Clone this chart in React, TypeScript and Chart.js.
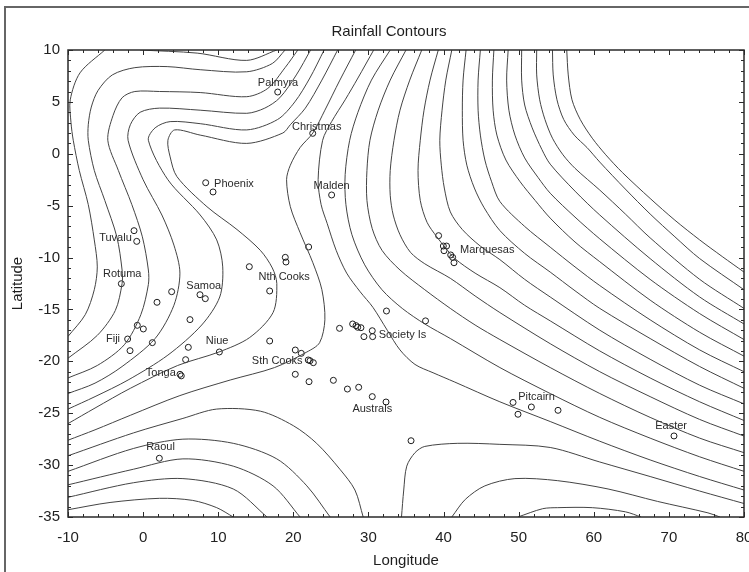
import React, { useEffect, useRef } from "react";
import { Chart, registerables } from "chart.js";
Chart.register(...registerables);

// Station locations (longitude offset, latitude)
const stationLon = [17.92, 22.58, 8.33, 9.31, 25.1, -1.21, -0.85, -2.9, 22.04, 18.93, 19.02, 14.14, 16.85, 7.57, 8.28, 3.8, 1.85, 6.24, -0.77, 0.03, -2.06, 1.23, -1.74, 6.02, 5.66, 10.15, 4.91, 5.08, 16.85, 20.26, 21.06, 21.99, 22.66, 22.22, 20.26, 22.09, 25.33, 27.2, 28.7, 30.51, 32.34, 35.67, 26.15, 27.9, 28.35, 28.57, 29.0, 29.4, 30.51, 30.56, 32.4, 37.6, 39.34, 39.97, 40.4, 40.06, 40.95, 41.21, 41.39, 49.25, 51.69, 49.91, 55.24, 70.68, 2.16];
const stationLat = [5.95, 1.97, -2.79, -3.68, -3.97, -7.41, -8.44, -12.52, -8.98, -9.98, -10.43, -10.88, -13.22, -13.58, -13.96, -13.29, -14.31, -15.98, -16.53, -16.88, -17.85, -18.2, -18.97, -18.65, -19.84, -19.1, -21.25, -21.4, -18.04, -18.91, -19.23, -19.87, -20.13, -19.94, -21.25, -21.96, -21.83, -22.67, -22.5, -23.4, -23.92, -27.65, -16.82, -16.4, -16.56, -16.72, -16.76, -17.62, -17.05, -17.62, -15.15, -16.1, -7.89, -8.89, -8.89, -9.34, -9.75, -9.98, -10.5, -23.96, -24.4, -25.1, -24.72, -27.19, -29.34];

// Place names and the centre of each name
const placeNames = ["Palmyra", "Christmas", "Phoenix", "Malden", "Tuvalu", "Rotuma", "Samoa", "Nth Cooks", "Fiji", "Niue", "Sth Cooks", "Tonga", "Society Is", "Australs", "Raoul", "Marquesas", "Pitcairn", "Easter"];
const placeLon = [17.96, 23.11, 12.1, 25.1, -3.68, -2.78, 8.08, 18.78, -4.01, 9.86, 17.85, 2.36, 34.53, 30.51, 2.32, 45.81, 52.38, 70.3];
const placeLat = [6.82, 2.55, -2.94, -3.08, -8.09, -11.56, -12.71, -11.87, -17.85, -18.07, -19.97, -21.1, -17.46, -24.62, -28.28, -9.27, -23.44, -26.23];

const xMin = -10, xMax = 80, xStep = 10;
const yMin = -35, yMax = 10, yStep = 5;

// Contour lines, as [longitude, latitude] vertices
const topV = [[-0.4, 10], [7.2, 9.7], [13.8, 9.0], [17.8, 10]];
const west1 = [[-5.1, 10], [-8.4, 7.8], [-9.7, 5.2], [-9.6, 3.0], [-9.3, 1.3], [-8.5, -1.6], [-7.3, -4.9], [-6.5, -8.3], [-6.1, -10.9], [-6.5, -13.1], [-7.7, -15.5], [-10, -17.6]];
const west2 = [[18.9, 10], [17.2, 8.7], [13.8, 7.9], [7.6, 8.1], [3.2, 8.4], [-1.1, 8.3], [-4.1, 7.6], [-6.0, 6.1], [-6.9, 4.5], [-7.3, 2.8], [-7.3, 1.3], [-6.5, -1.6], [-5.1, -4.5], [-3.5, -8.0], [-2.8, -11.2], [-2.8, -12.5], [-3.7, -15.1], [-6.1, -17.5], [-10, -19.7]];
const west3 = [[20.6, 10], [18.9, 8.3], [16.6, 6.3], [13.8, 5.5], [7.6, 5.9], [2.2, 6.0], [-1.1, 6.0], [-2.8, 5.4], [-4.0, 3.7], [-4.7, 1.3], [-3.3, -1.6], [-1.5, -4.9], [-0.1, -8.0], [0.7, -11.2], [0.7, -12.6], [-0.3, -15.5], [-2.5, -18.4], [-6.1, -20.4], [-10, -21.6]];
const west4 = [[22.3, 10], [20.4, 7.6], [18.2, 5.4], [16.2, 4.4], [13.8, 3.9], [7.6, 4.2], [2.2, 4.4], [-0.4, 4.0], [-1.7, 2.8], [-2.0, 1.3], [0.0, -2.5], [2.5, -5.9], [4.1, -8.8], [4.9, -11.5], [4.1, -14.6], [1.6, -17.8], [-2.8, -20.5], [-6.4, -22.1], [-10, -23.1]];
const west5 = [[24.1, 10], [22.2, 7.3], [20.2, 5.0], [17.9, 3.3], [13.8, 2.3], [7.6, 2.9], [3.6, 3.1], [1.6, 2.5], [0.7, 1.3], [3.3, -2.5], [7.6, -5.9], [9.8, -8.3], [10.6, -10.9], [10.2, -13.8], [7.8, -16.5], [3.3, -19.4], [-2.0, -21.8], [-6.4, -23.4], [-10, -24.6]];
const west6 = [[25.9, 10], [23.8, 7.1], [21.6, 4.4], [19.6, 2.8], [18.6, 2.0], [13.8, 1.0], [7.6, 1.8], [4.2, 2.3], [3.3, 1.3], [3.6, -0.3], [4.5, -2.2], [8.5, -5.1], [12.5, -7.3], [15.6, -9.3], [17.2, -11.0], [17.8, -12.5], [17.3, -15.3], [14.2, -17.7], [10.1, -19.1], [4.6, -20.4], [-1.7, -22.6], [-6.4, -24.5], [-10, -26.0]];
const middle = [[28.3, 10], [26.2, 7.1], [24.2, 4.2], [22.6, 2.0], [20.9, 0.6], [19.6, -1.1], [19.1, -2.5], [19.6, -5.1], [20.9, -7.6], [22.6, -10.5], [23.8, -13.1], [24.2, -16.0], [23.5, -18.2], [21.8, -19.1], [17.5, -20.6], [11.6, -21.8], [4.9, -23.3], [-1.7, -25.2], [-6.4, -26.6], [-10, -27.6]];
const east1 = [[30.7, 10], [28.6, 7.3], [26.9, 5.2], [25.1, 3.1], [23.9, 1.3], [23.3, -2.5], [23.7, -4.9], [24.5, -6.7], [25.7, -9.3], [27.1, -11.5], [28.9, -13.3], [30.6, -14.8], [32.5, -17.0], [34.2, -18.9], [36.2, -20.3], [38.6, -21.1], [41.5, -22.0], [47.5, -23.9], [54.2, -25.8], [60.8, -27.7], [67.5, -29.5], [74.1, -31.1], [80, -32.4]];
const east2 = [[32.9, 10], [30.4, 7.1], [28.6, 4.0], [27.5, 1.3], [26.9, -2.0], [27.0, -4.9], [27.8, -7.8], [29.5, -10.7], [31.8, -13.1], [34.5, -14.9], [37.5, -16.4], [40.9, -17.8], [47.5, -20.6], [54.2, -23.1], [60.8, -25.4], [67.5, -27.4], [74.1, -29.2], [80, -30.6]];
const east3 = [[35.0, 10], [32.9, 7.1], [31.3, 4.2], [30.2, 1.3], [29.8, -1.6], [29.8, -4.5], [30.5, -7.2], [31.8, -9.3], [34.2, -11.2], [37.5, -13.1], [40.9, -14.9], [44.2, -16.5], [47.5, -17.9], [54.2, -20.6], [60.8, -23.1], [67.5, -25.4], [74.1, -27.4], [80, -28.8]];
const east4 = [[37.1, 10], [35.5, 7.1], [34.2, 4.2], [33.4, 1.3], [32.9, -1.6], [32.9, -4.0], [33.3, -5.9], [34.2, -7.8], [35.6, -9.5], [37.5, -10.6], [40.9, -12.0], [44.2, -13.7], [47.5, -15.3], [54.2, -18.3], [60.8, -21.0], [67.5, -23.4], [74.1, -25.6], [80, -27.2]];
const east5 = [[39.3, 10], [38.2, 7.1], [37.4, 4.2], [36.9, 1.3], [36.6, -1.6], [36.9, -4.5], [37.8, -6.6], [39.1, -8.0], [40.3, -9.1], [41.5, -10.1], [44.2, -11.5], [47.5, -12.9], [50.8, -14.6], [54.2, -16.1], [60.8, -19.0], [67.5, -21.6], [74.1, -23.9], [80, -25.7]];
const east6 = [[41.1, 10], [40.3, 7.1], [39.8, 4.2], [39.5, 1.3], [39.7, -1.1], [40.1, -3.3], [40.9, -5.6], [42.5, -7.3], [44.9, -8.9], [47.5, -10.2], [50.8, -12.1], [54.2, -13.8], [60.8, -17.0], [67.5, -19.8], [74.1, -22.3], [80, -24.1]];
const east7 = [[43.0, 10], [42.6, 7.1], [42.5, 4.2], [42.6, 1.3], [43.1, -1.1], [44.1, -3.3], [45.4, -5.2], [47.5, -7.4], [50.8, -9.6], [54.2, -11.4], [57.5, -13.2], [60.8, -14.9], [67.5, -17.8], [74.1, -20.5], [80, -22.6]];
const east8 = [[44.9, 10], [44.6, 7.1], [44.6, 4.2], [44.9, 1.8], [45.5, -0.6], [46.4, -2.7], [47.5, -4.6], [50.8, -7.0], [54.2, -9.0], [57.5, -10.9], [60.8, -12.7], [67.5, -16.0], [74.1, -18.9], [80, -21.0]];
const east9 = [[46.7, 10], [46.5, 7.1], [46.6, 4.2], [47.1, 1.8], [48.3, -0.6], [50.2, -2.7], [52.2, -4.5], [54.2, -6.2], [57.5, -8.5], [60.8, -10.4], [67.5, -14.1], [74.1, -17.2], [80, -19.5]];
const east10 = [[48.6, 10], [48.4, 7.1], [48.7, 4.2], [49.5, 1.8], [50.8, -0.4], [52.6, -2.3], [54.2, -3.8], [57.5, -6.1], [60.8, -8.2], [67.5, -12.1], [74.1, -15.4], [80, -17.9]];
const east11 = [[50.4, 10], [50.4, 7.1], [50.8, 4.7], [51.8, 2.5], [53.1, 0.4], [54.2, -1.0], [57.5, -3.6], [60.8, -5.9], [67.5, -10.1], [74.1, -13.8], [80, -16.4]];
const east12 = [[52.4, 10], [52.4, 7.6], [52.8, 5.2], [53.5, 3.3], [54.5, 1.5], [55.9, -0.1], [57.5, -1.4], [60.8, -3.5], [64.2, -5.8], [67.5, -8.1], [74.1, -12.1], [80, -14.9]];
const east13 = [[54.5, 10], [54.6, 7.6], [55.1, 5.2], [56.0, 3.3], [57.4, 1.8], [59.1, 0.6], [60.8, -0.8], [64.2, -3.4], [67.5, -5.8], [70.8, -8.0], [74.1, -10.1], [80, -13.1]];
const east14 = [[56.4, 10], [56.6, 7.6], [57.1, 5.2], [58.2, 3.3], [59.8, 1.5], [61.6, -0.1], [63.8, -1.8], [67.5, -4.3], [70.8, -6.4], [74.1, -8.3], [77.1, -9.9], [80, -11.4]];
const southEastRim = [[34.4, -35], [34.7, -32.4], [35.1, -30.1], [36.2, -28.8], [37.5, -28.2], [41.9, -27.9], [47.5, -28.0], [54.2, -28.3], [60.8, -29.7], [67.5, -31.1], [74.1, -32.5], [80, -33.7]];
const southEastDome1 = [[41.1, -35], [42.9, -33.3], [45.5, -32.0], [49.5, -31.3], [55.2, -31.5], [61.9, -32.3], [68.5, -33.5], [75.2, -34.6], [76.8, -35]];
const southEastDome2 = [[49.9, -35], [53.2, -34.2], [55.2, -34.1], [59.8, -34.1], [64.2, -34.5], [66.3, -35]];
const southWestDome1 = [[-10, -29.1], [-1.3, -26.9], [5.3, -25.5], [9.8, -24.6], [15.6, -24.8], [20.0, -26.2], [23.1, -27.9], [26.2, -30.4], [28.2, -32.4], [29.3, -35]];
const southWestDome2 = [[-10, -30.6], [-1.3, -28.4], [5.3, -27.5], [12.0, -27.9], [17.8, -29.4], [21.8, -32.0], [24.9, -35]];
const southWestDome3 = [[-10, -31.9], [-1.3, -30.4], [5.3, -29.4], [12.0, -30.1], [17.3, -32.0], [20.9, -35]];
const southWestDome4 = [[-10, -33.1], [-1.3, -31.7], [5.3, -31.3], [12.0, -32.3], [16.5, -35]];
const southWestDome5 = [[-10, -34.3], [-4.4, -33.6], [2.2, -33.2], [6.6, -33.4], [9.8, -34.1], [12.0, -35]];

const contourLines: number[][][] = [
  topV, west1, west2, west3, west4, west5, west6, middle,
  east1, east2, east3, east4, east5, east6, east7, east8, east9, east10, east11, east12, east13, east14,
  southEastRim, southEastDome1, southEastDome2,
  southWestDome1, southWestDome2, southWestDome3, southWestDome4, southWestDome5,
];

const W = 749, H = 572;

const decor = {
  id: "decor",
  beforeDraw(chart: any) {
    const c = chart.ctx;
    c.save();
    c.fillStyle = "#ffffff";
    c.fillRect(0, 0, W, H);
    c.strokeStyle = "#666666";
    c.lineWidth = 2;
    c.beginPath();
    c.moveTo(5, H);
    c.lineTo(5, 7);
    c.lineTo(W, 7);
    c.stroke();
    c.restore();
  },
  afterDraw(chart: any) {
    const c = chart.ctx;
    const a = chart.chartArea;
    const xs = chart.scales.x, ys = chart.scales.y;
    c.save();
    c.strokeStyle = "#2a2a2a";
    c.lineWidth = 1.5;
    c.strokeRect(a.left, a.top, a.right - a.left, a.bottom - a.top);
    c.lineWidth = 1;
    c.beginPath();
    for (let v = xMin; v <= xMax; v += 2) {
      const p = Math.round(xs.getPixelForValue(v)) + 0.5;
      const len = v % 10 === 0 ? 5 : 3;
      c.moveTo(p, a.bottom); c.lineTo(p, a.bottom - len);
      c.moveTo(p, a.top); c.lineTo(p, a.top + len);
    }
    for (let v = yMin; v <= yMax; v += 1) {
      const p = Math.round(ys.getPixelForValue(v)) + 0.5;
      const len = v % 5 === 0 ? 5 : 3;
      c.moveTo(a.left, p); c.lineTo(a.left + len, p);
      c.moveTo(a.right, p); c.lineTo(a.right - len, p);
    }
    c.stroke();
    // place names
    c.fillStyle = "#2a2a2a";
    c.font = "11px 'Liberation Sans', Arial, sans-serif";
    c.textAlign = "center";
    c.textBaseline = "middle";
    placeNames.forEach((n, i) => {
      c.fillText(n, xs.getPixelForValue(placeLon[i]), ys.getPixelForValue(placeLat[i]));
    });
    // titles
    c.fillStyle = "#1e1e1e";
    c.font = "15px 'Liberation Sans', Arial, sans-serif";
    c.fillText("Rainfall Contours", 389, 32);
    c.fillText("Longitude", (a.left + a.right) / 2, 561);
    c.translate(18, (a.top + a.bottom) / 2);
    c.rotate(-Math.PI / 2);
    c.fillText("Latitude", 0, 0);
    c.restore();
  },
};

export default function App() {
  const ref = useRef<HTMLCanvasElement>(null);
  useEffect(() => {
    const canvas = ref.current;
    if (!canvas) return;
    const datasets: any[] = contourLines.map((line) => ({
      type: "line",
      data: line.map(([x, y]) => ({ x, y })),
      borderColor: "#444444",
      borderWidth: 1,
      pointRadius: 0,
      fill: false,
      tension: 0.3,
    }));
    datasets.push({
      type: "scatter",
      data: stationLon.map((x, i) => ({ x, y: stationLat[i] })),
      pointRadius: 3,
      pointStyle: "circle",
      borderColor: "#1e1e1e",
      backgroundColor: "rgba(255,255,255,0)",
      borderWidth: 1,
    });
    const tickFont = { family: "'Liberation Sans', Arial, sans-serif", size: 15 };
    const chart = new Chart(canvas, {
      type: "scatter",
      data: { datasets },
      options: {
        animation: false,
        responsive: false,
        events: [],
        layout: { padding: { top: 50, right: 5, left: 0, bottom: 0 } },
        plugins: { legend: { display: false }, tooltip: { enabled: false }, title: { display: false } },
        scales: {
          x: {
            type: "linear",
            min: xMin,
            max: xMax,
            ticks: { stepSize: xStep, font: tickFont, color: "#222", padding: 12, maxRotation: 0, autoSkip: false },
            grid: { display: false, drawTicks: false },
            border: { display: false },
            afterFit: (s: any) => { s.height = 55; s.paddingLeft = 0; s.paddingRight = 0; },
          },
          y: {
            type: "linear",
            min: yMin,
            max: yMax,
            ticks: { stepSize: yStep, font: tickFont, color: "#222", padding: 8, autoSkip: false },
            grid: { display: false, drawTicks: false },
            border: { display: false },
            afterFit: (s: any) => { s.width = 68; s.paddingTop = 0; s.paddingBottom = 0; },
          },
        },
      },
      plugins: [decor],
    });
    return () => chart.destroy();
  }, []);
  return (
    <div style={{ position: "absolute", left: 0, top: 0, width: W, height: H, background: "#fff" }}>
      <canvas ref={ref} width={W} height={H} style={{ width: W, height: H, display: "block" }} />
    </div>
  );
}
